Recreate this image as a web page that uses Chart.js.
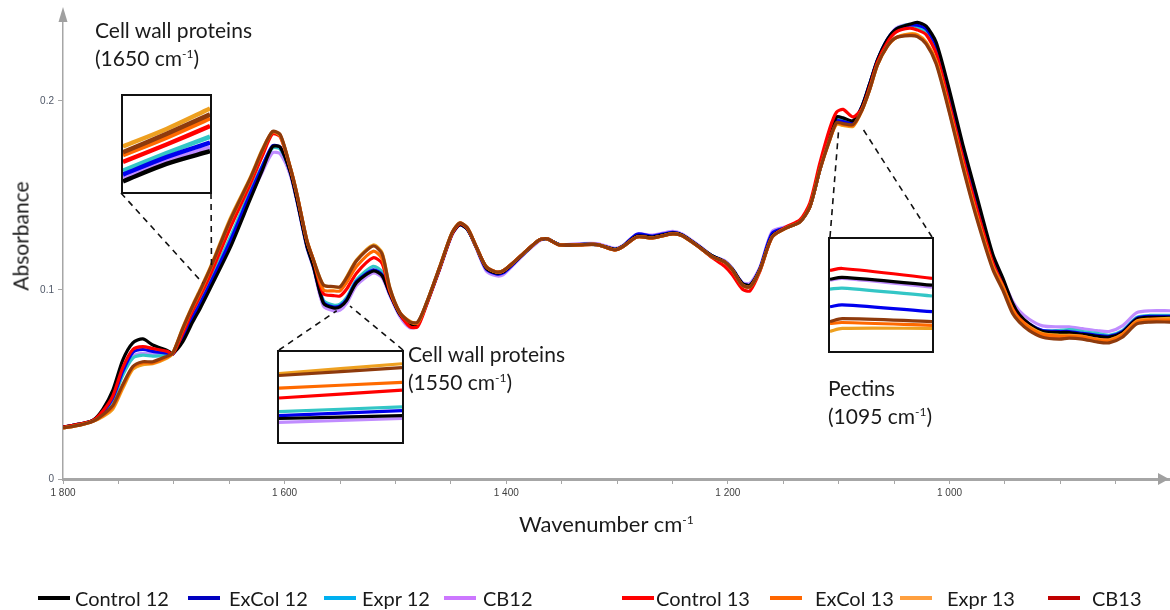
<!DOCTYPE html>
<html><head><meta charset="utf-8">
<script src="https://cdn.jsdelivr.net/npm/chart.js@4.4.1/dist/chart.umd.min.js"></script>
<style>
html,body{margin:0;padding:0;background:#fff;}
#wrap{position:relative;width:1170px;height:610px;overflow:hidden;font-family:Lato,'Open Sans',sans-serif;color:#1a1a1a;}
#main{position:absolute;left:0;top:0;}
.inset{position:absolute;border:2px solid #111;background:#fff;box-sizing:border-box;}
.inset canvas{display:block;}
.note{position:absolute;font-size:21px;line-height:28px;white-space:nowrap;}
sup{font-size:12px;vertical-align:0;position:relative;top:-8px;}
#ytitle{position:absolute;left:20px;top:236px;transform:translate(-50%,-50%) rotate(-90deg);font-size:21px;white-space:nowrap;}
#xtitle{position:absolute;left:519px;top:510px;font-size:22px;white-space:nowrap;}
.lg{position:absolute;top:587px;font-size:20px;line-height:22px;white-space:nowrap;}
</style></head>
<body><div id="wrap">
<canvas id="main" width="1170" height="610"></canvas>
<div class="note" style="left:95px;top:16px">Cell wall proteins<br>(1650 cm<sup>-1</sup>)</div>
<div class="note" style="left:408px;top:340px">Cell wall proteins<br>(1550 cm<sup>-1</sup>)</div>
<div class="note" style="left:828px;top:374px">Pectins<br>(1095 cm<sup>-1</sup>)</div>
<div id="ytitle">Absorbance</div>
<div id="xtitle">Wavenumber cm<sup>-1</sup></div>
<div id="legend"></div>
</div>
<script>
// ---- data ----
const wavenumbers = [1800,1785,1773,1764,1755,1746,1737,1728,1719,1706,
1701,1692,1683,1676,1667,1649,1631,1620,1611,1604,
1595,1589,1580,1574,1565,1556,1550,1544,1535,1520,
1512,1505,1496,1487,1480,1472,1460,1449,1442,1435,
1427,1418,1409,1403,1394,1381,1370,1363,1352,1334,
1318,1302,1295,1282,1268,1250,1241,1225,1214,1203,
1196,1187,1180,1171,1160,1147,1135,1126,1117,1108,
1102,1096,1087,1079,1072,1065,1056,1048,1036,1029,
1021,1012,1000,988,976,961,952,943,937,928,
916,901,892,880,867,856,844,831,819,801];

const control12 = [.0275,.029,.031,.037,.047,.063,.072,.0741,.0709,.068,
.0665,.0725,.083,.0905,.101,.1225,.148,.1635,.1757,.1755,
.1625,.148,.1235,.1125,.093,.0905,.091,.0945,.104,.110,
.1075,.098,.087,.0815,.082,.0925,.1115,.1295,.1345,.132,
.1225,.1115,.109,.1095,.114,.121,.1265,.127,.124,.124,
.124,.1215,.123,.1285,.128,.130,.129,.1225,.118,.115,
.111,.1035,.1025,.111,.1285,.133,.136,.144,.1635,.1815,
.1915,.191,.1895,.197,.209,.2215,.2325,.238,.2405,.2415,
.2395,.231,.2055,.177,.151,.119,.1065,.093,.087,.082,
.078,.0775,.0775,.0765,.0755,.075,.0775,.0845,.0855,.0855];

const excol12 = [.0275,.029,.031,.0355,.043,.057,.067,.0685,.0675,.0665,
.066,.075,.0855,.093,.1035,.126,.151,.1655,.1762,.1755,
.1625,.148,.1235,.1125,.0935,.091,.0915,.095,.1045,.1106,
.108,.098,.087,.0815,.082,.0925,.1115,.1295,.1345,.132,
.1225,.111,.1085,.109,.1135,.121,.1265,.127,.124,.124,
.124,.1215,.123,.1295,.1285,.1305,.129,.1225,.118,.115,
.111,.1035,.1025,.1115,.130,.133,.136,.144,.1635,.181,
.1895,.189,.1885,.197,.209,.2215,.2325,.238,.240,.240,
.238,.229,.203,.175,.149,.117,.105,.092,.0865,.082,
.0785,.078,.078,.077,.076,.0755,.078,.085,.086,.086];

const expr12 = [.0275,.029,.031,.035,.042,.055,.064,.0655,.065,.0655,
.066,.0755,.0865,.094,.105,.128,.1525,.166,.175,.1745,
.1625,.148,.1235,.1125,.0945,.092,.0925,.096,.1055,.1125,
.1095,.0985,.0875,.082,.0825,.093,.112,.130,.1345,.132,
.1228,.112,.1095,.110,.114,.121,.1265,.127,.124,.124,
.124,.1215,.123,.129,.128,.130,.129,.1225,.118,.115,
.111,.1035,.1025,.111,.1295,.133,.136,.144,.1635,.181,
.190,.1895,.189,.197,.209,.2215,.2325,.238,.2405,.239,
.2365,.227,.200,.172,.146,.1155,.1035,.091,.086,.0815,
.0785,.0785,.079,.078,.077,.076,.0785,.0855,.0865,.0865];

const cb12 = [.0275,.029,.031,.035,.042,.056,.065,.0665,.066,.066,
.066,.0735,.084,.0915,.102,.124,.149,.1625,.1725,.172,
.161,.147,.1225,.1115,.0915,.089,.0893,.093,.1025,.109,
.1065,.097,.086,.080,.081,.092,.111,.129,.1345,.132,
.122,.110,.1075,.108,.113,.1205,.126,.127,.124,.1245,
.1245,.122,.1235,.1295,.129,.131,.1295,.123,.118,.1155,
.1115,.104,.1035,.112,.131,.1335,.1365,.1445,.1635,.181,
.191,.1905,.1895,.197,.209,.2215,.2325,.2385,.2405,.2395,
.2365,.2275,.201,.173,.147,.117,.1055,.094,.089,.0845,
.081,.0805,.0805,.0795,.0785,.078,.081,.088,.089,.089];

const control13 = [.0275,.029,.031,.036,.044,.059,.0685,.070,.069,.0675,
.066,.077,.089,.097,.108,.133,.156,.171,.1825,.181,
.1645,.1505,.126,.1155,.098,.097,.0968,.1005,.109,.117,
.114,.099,.0875,.0805,.0805,.092,.1115,.1295,.135,.1325,
.1228,.1122,.1095,.110,.1143,.1212,.1265,.127,.1238,.1238,
.124,.1212,.1228,.128,.1275,.1296,.1286,.1222,.117,.1125,
.108,.1005,.0995,.110,.128,.1335,.137,.146,.167,.1855,
.194,.1955,.1915,.196,.2075,.2205,.231,.2365,.2385,.2375,
.235,.225,.198,.170,.144,.1145,.1025,.090,.085,.0805,
.0765,.0755,.076,.0755,.074,.0735,.0765,.0835,.0845,.0845];

const excol13 = [.027,.0285,.0305,.0335,.038,.049,.059,.0614,.0614,.0645,
.0665,.079,.091,.099,.111,.1365,.1585,.1735,.1836,.182,
.165,.151,.1265,.116,.100,.0995,.0995,.104,.1125,.1205,
.1165,.100,.088,.083,.0825,.093,.1122,.1302,.1354,.1328,
.1228,.1122,.1095,.1101,.1143,.1212,.1265,.127,.1238,.1238,
.124,.1212,.1228,.128,.1275,.1296,.1286,.1222,.1175,.1148,
.1106,.1026,.1016,.1106,.128,.1328,.136,.1439,.1635,.1795,
.188,.1875,.187,.195,.206,.219,.229,.2335,.235,.2345,
.2305,.2205,.1945,.166,.140,.112,.1015,.089,.0845,.080,
.0765,.0755,.0755,.075,.0735,.073,.076,.083,.084,.084];

const expr13 = [.027,.0285,.0305,.033,.037,.048,.058,.0605,.061,.064,
.0665,.080,.092,.1005,.112,.138,.1595,.1745,.1835,.1815,
.165,.151,.1265,.116,.1026,.1016,.1016,.1069,.1159,.1238,
.1196,.101,.088,.0835,.0825,.093,.1122,.1302,.1354,.1328,
.1228,.1122,.1095,.1101,.1143,.1212,.1265,.127,.1238,.1238,
.124,.1212,.1228,.128,.1275,.1296,.1286,.1222,.1175,.1148,
.1106,.1026,.1016,.1106,.128,.1328,.136,.1439,.1635,.1795,
.1875,.187,.1865,.195,.206,.219,.229,.2335,.2355,.235,
.231,.221,.195,.1665,.1405,.1125,.102,.0895,.0845,.0805,
.077,.076,.076,.0755,.074,.0735,.0765,.0835,.0845,.085];

const cb13 = [.027,.0285,.0305,.034,.039,.050,.0595,.062,.062,.065,
.0665,.0795,.0915,.100,.1115,.137,.159,.174,.1838,.1822,
.165,.151,.1265,.116,.1026,.1018,.1016,.1065,.1155,.1232,
.119,.101,.088,.0831,.083,.093,.1122,.1302,.1354,.1328,
.1228,.1122,.1095,.1101,.1143,.1212,.1265,.127,.1238,.1238,
.124,.1212,.1228,.128,.1275,.1296,.1286,.1222,.1175,.1148,
.1106,.1026,.1016,.1106,.128,.1328,.136,.1439,.1635,.1795,
.1885,.188,.1875,.195,.206,.219,.229,.2335,.2345,.234,
.230,.2195,.1935,.165,.139,.111,.100,.0875,.083,.0785,
.075,.074,.0745,.074,.0725,.072,.075,.082,.083,.083];

const seriesNames = ['Control 12','ExCol 12','Expr 12','CB12','Control 13','ExCol 13','Expr 13','CB13'];
const seriesValues = [control12, excol12, expr12, cb12, control13, excol13, expr13, cb13];

// zoomed inset readings (relative height within each inset box), same series order
const inset1X = [0, 50, 100];
const inset1Values = [[11,29,42],[18,36,51],[22,40,57],[15,32,46],[31,49,68],[38,56,76],[47,65,86],[41,60,80]];
const inset2X = [0, 100];
const inset2Values = [[24,27],[27,32],[31,36],[20,24],[45,53],[55,61],[70,80],[68,76]];
const inset3X = [0, 12, 100];
const inset3Values = [[73,75,67],[45,47,40],[63,64,56],[72,74,65],[82,84,74],[28,29,26],[20,23,23],[30,33,30]];

// axis ticks
const xTickValues = [1800,1750,1700,1650,1600,1550,1500,1450,1400,1350,1300,1250,1200,1150,1100,1050,1000,950,900,850];
const xLabelStep = 200;
const yTickValues = [0, 0.1, 0.2];
const yTickLabels = ['0', '0.1', '0.2'];

// ---- styles ----
const lineColors = ['#000000','#0000ee','#33c6c6','#c08cff','#ff0000','#ff6a00','#eea020','#8e3a0c'];
const legendColors = ['#000000','#0000c0','#00b0f0','#cc77ff','#ff0000','#ff6600','#ffa040','#c00000'];
const drawOrder = [4,5,6,7,3,1,2,0];
const legendLineX = [38,188,324,444,622,770,900,1048];
const legendTextX = [75,229,362,483,656,815,947,1092];
const insetBoxes = [
  {left:121, top:94, width:91, height:100, ymax:99, x:inset1X, vals:inset1Values, lw:4.5},
  {left:277, top:350, width:127, height:94, ymax:92, x:inset2X, vals:inset2Values, lw:3.2},
  {left:828, top:237, width:106, height:116, ymax:114, x:inset3X, vals:inset3Values, lw:3.2}
];
const connectors = [
  {from:[121,193], to:[1674,0.1037]},
  {from:[211,193], to:[1666,0.113]},
  {from:[279,350], to:[1553,0.089]},
  {from:[403,350], to:[1541,0.0915]},
  {from:[830,237], to:[1100,0.185]},
  {from:[932,237], to:[1078,0.185]}
];

function fmtThousands(v){
  if (v >= 1000) return Math.floor(v/1000) + ' ' + String(v % 1000).padStart(3,'0');
  return String(v);
}

const datasets = seriesNames.map((name, i) => ({
  label: name,
  data: wavenumbers.map((w, j) => ({x: w, y: seriesValues[i][j]})),
  borderColor: lineColors[i],
  borderWidth: 3.2,
  pointRadius: 0,
  tension: 0.25,
  fill: false,
  order: drawOrder[i]
}));

const decorations = {
  id: 'decorations',
  afterDatasetsDraw(chart) {
    const {ctx, scales:{x, y}} = chart;
    ctx.save();
    ctx.setLineDash([6,5]);
    ctx.strokeStyle = '#111';
    ctx.lineWidth = 1.6;
    connectors.forEach(c => {
      ctx.beginPath();
      ctx.moveTo(c.from[0], c.from[1]);
      ctx.lineTo(x.getPixelForValue(c.to[0]), y.getPixelForValue(c.to[1]));
      ctx.stroke();
    });
    ctx.restore();
  },
  afterDraw(chart) {
    const {ctx, chartArea:a} = chart;
    ctx.save();
    ctx.fillStyle = '#a0a0a0';
    ctx.beginPath();
    ctx.moveTo(a.right - 1, a.bottom);
    ctx.lineTo(a.right - 12, a.bottom - 6);
    ctx.lineTo(a.right - 12, a.bottom + 6);
    ctx.closePath(); ctx.fill();
    ctx.beginPath();
    ctx.moveTo(a.left, a.top - 5);
    ctx.lineTo(a.left - 4.5, a.top + 10);
    ctx.lineTo(a.left + 4.5, a.top + 10);
    ctx.closePath(); ctx.fill();
    ctx.restore();
  }
};

const chart = new Chart(document.getElementById('main'), {
  type: 'line',
  data: {datasets},
  options: {
    responsive: false,
    animation: false,
    layout: {padding: {top: 12, left: 0, right: 0, bottom: 0}},
    plugins: {legend: {display: false}, tooltip: {enabled: false}},
    scales: {
      x: {
        type: 'linear', reverse: true, min: 801, max: 1800,
        afterFit: s => { s.height = 131; },
        afterBuildTicks: s => { s.ticks = xTickValues.map(v => ({value: v})); },
        border: {color: '#a6a6a6', width: 3},
        grid: {drawOnChartArea: false, drawTicks: true, tickLength: 5, color: '#a6a6a6'},
        ticks: {
          maxRotation: 0, autoSkip: false, padding: 3,
          color: '#404040', font: {family: 'Liberation Sans', size: 10},
          callback: v => (v % xLabelStep === 0 ? fmtThousands(v) : '')
        }
      },
      y: {
        type: 'linear', min: 0, max: 0.247,
        afterFit: s => { s.width = 63; },
        afterBuildTicks: s => { s.ticks = yTickValues.map(v => ({value: v})); },
        border: {color: '#a6a6a6', width: 1.5},
        grid: {drawOnChartArea: false, drawTicks: true, tickLength: 5, color: '#a6a6a6'},
        ticks: {
          padding: 4, autoSkip: false,
          color: '#505868', font: {family: 'Liberation Sans', size: 10},
          callback: (v, i) => yTickLabels[yTickValues.indexOf(v)] ?? ''
        }
      }
    }
  },
  plugins: [decorations]
});

// insets (zoomed views)
const wrap = document.getElementById('wrap');
insetBoxes.forEach(b => {
  const d = document.createElement('div');
  d.className = 'inset';
  d.style.left = b.left + 'px'; d.style.top = b.top + 'px';
  d.style.width = b.width + 'px'; d.style.height = b.height + 'px';
  const c = document.createElement('canvas');
  c.width = b.width - 4; c.height = b.height - 4;
  d.appendChild(c); wrap.appendChild(d);
  new Chart(c, {
    type: 'line',
    data: {datasets: seriesNames.map((n, i) => ({
      label: n,
      data: b.x.map((xv, j) => ({x: xv, y: b.vals[i][j]})),
      borderColor: lineColors[i], borderWidth: b.lw, pointRadius: 0, tension: 0.3,
      order: drawOrder[i]
    }))},
    options: {
      responsive: false, animation: false,
      layout: {padding: 0},
      plugins: {legend: {display: false}, tooltip: {enabled: false}},
      scales: {
        x: {type: 'linear', min: b.x[0], max: b.x[b.x.length-1], display: false},
        y: {type: 'linear', min: 0, max: b.ymax, display: false}
      }
    }
  });
});

// HTML legend built from the chart datasets
const lg = document.getElementById('legend');
chart.data.datasets.forEach((ds, i) => {
  const sw = document.createElement('i');
  sw.style.cssText = 'position:absolute;top:596px;height:4px;width:32px;';
  sw.style.left = legendLineX[i] + 'px';
  sw.style.background = legendColors[i];
  lg.appendChild(sw);
  const t = document.createElement('div');
  t.className = 'lg';
  t.style.left = legendTextX[i] + 'px';
  t.textContent = ds.label;
  lg.appendChild(t);
});
</script>
</body></html>
